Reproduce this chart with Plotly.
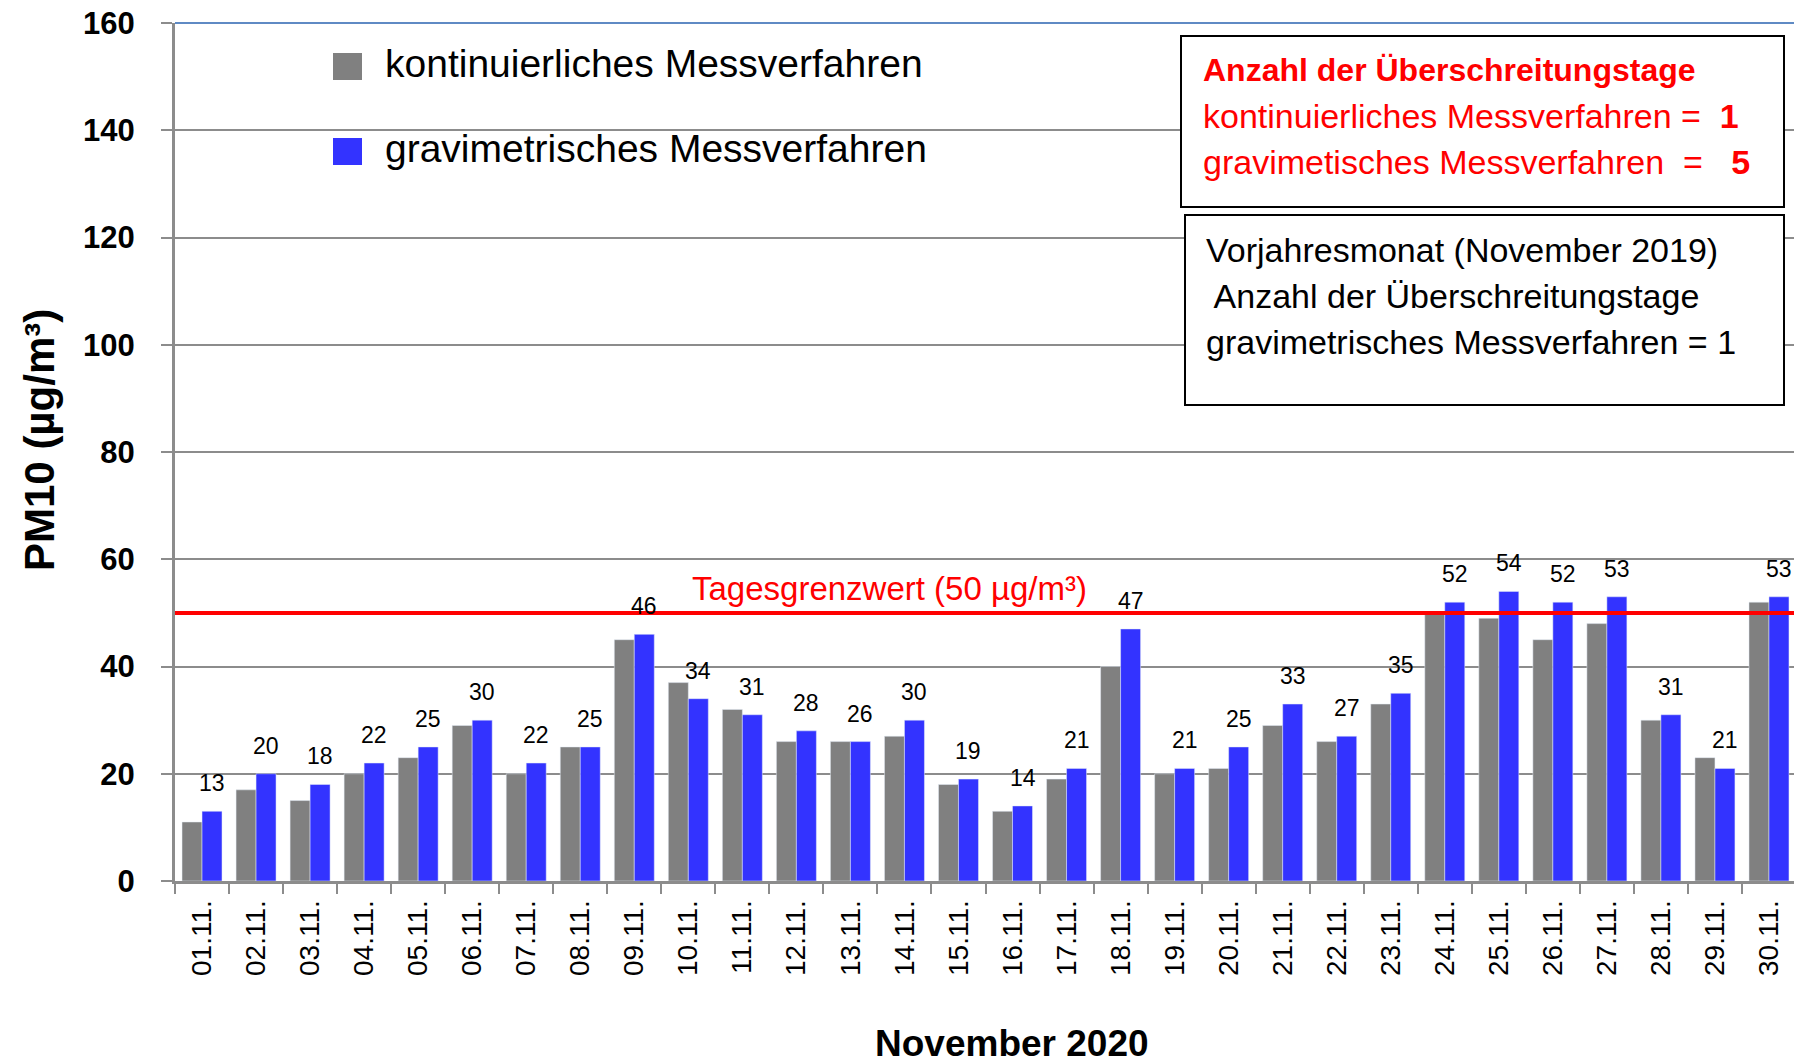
import plotly.graph_objects as go

days = [f"{d:02d}.11." for d in range(1, 31)]
kontinuierlich = [11, 17, 15, 20, 23, 29, 20, 25, 45, 37, 32, 26, 26, 27, 18,
                  13, 19, 40, 20, 21, 29, 26, 33, 50, 49, 45, 48, 30, 23, 52]
gravimetrisch = [13, 20, 18, 22, 25, 30, 22, 25, 46, 34, 31, 28, 26, 30, 19,
                 14, 21, 47, 21, 25, 33, 27, 35, 52, 54, 52, 53, 31, 21, 53]
grenzwert = 50
y_ticks = [0, 20, 40, 60, 80, 100, 120, 140, 160]

FONT = "Liberation Sans"
GRAY = "#808080"
BLUE = "#3333ff"
RED = "#ff0000"
AXIS = "#8c8c8c"

# page is 1802 x 1063, the body margin puts the figure 8px in
PAGE_W, PAGE_H, OFF = 1802, 1063, 8
W_FIG, H_FIG = PAGE_W - OFF, PAGE_H - OFF
# plot area in page pixels
L, R, T, B = 175, 1796, 23, 881


def px(x):
    return (x - L) / (R - L)


def py(y):
    return (B - y) / (B - T)


fig = go.Figure()
fig.add_trace(go.Bar(x=days, y=kontinuierlich, name="kontinuierliches Messverfahren",
                     marker_color=GRAY, showlegend=False))
fig.add_trace(go.Bar(x=days, y=gravimetrisch, name="gravimetrisches Messverfahren",
                     marker_color=BLUE, showlegend=False))

shapes = [
    # chart border, only top and right show in blue
    dict(type="line", xref="paper", yref="paper", x0=0, x1=1, y0=1, y1=1,
         line=dict(color="#5f8ac4", width=2), layer="above"),
    dict(type="line", xref="paper", yref="paper", x0=1, x1=1, y0=0, y1=1,
         line=dict(color="#5f8ac4", width=2), layer="above"),
    # limit value line
    dict(type="line", xref="paper", yref="y", x0=0, x1=1, y0=grenzwert, y1=grenzwert,
         line=dict(color=RED, width=4), layer="above"),
    # legend squares
    dict(type="rect", xref="paper", yref="paper", x0=px(333), x1=px(362), y0=py(80), y1=py(53),
         fillcolor=GRAY, line=dict(width=0)),
    dict(type="rect", xref="paper", yref="paper", x0=px(333), x1=px(362), y0=py(165), y1=py(138),
         fillcolor=BLUE, line=dict(width=0)),
    # info boxes
    dict(type="rect", xref="paper", yref="paper", x0=px(1181), x1=px(1784), y0=py(207), y1=py(36),
         fillcolor="white", line=dict(color="black", width=2), layer="above"),
    dict(type="rect", xref="paper", yref="paper", x0=px(1185), x1=px(1784), y0=py(405), y1=py(215),
         fillcolor="white", line=dict(color="black", width=2), layer="above"),
]

annotations = []
for d, v in zip(days, gravimetrisch):
    annotations.append(dict(x=d, y=v, xref="x", yref="y", text=str(v), showarrow=False,
                            xshift=10, yshift=13, yanchor="bottom",
                            font=dict(family=FONT, size=23, color="black")))


def note(x, y, text, size, color="black", xanchor="left", angle=0):
    annotations.append(dict(x=px(x), y=py(y), xref="paper", yref="paper", text=text,
                            showarrow=False, xanchor=xanchor, yanchor="middle",
                            textangle=angle,
                            font=dict(family=FONT, size=size, color=color)))


note(383, 64, "kontinuierliches Messverfahren", 39)
note(383, 148, "gravimetrisches Messverfahren", 39)
note(889, 588, "Tagesgrenzwert (50 µg/m³)", 33, RED, "center")
note(1201, 70, "<b>Anzahl der Überschreitungstage</b>", 32, RED)
note(1201, 116, "kontinuierliches Messverfahren =  <b>1</b>", 34, RED)
note(1201, 162, "gravimetisches Messverfahren  =   <b>5</b>", 34, RED)
note(1204, 250, "Vorjahresmonat (November 2019)", 34)
note(1204, 296, " Anzahl der Überschreitungstage", 34)
note(1204, 342, "gravimetrisches Messverfahren = 1", 34)
note(1012, 1043, "<b>November 2020</b>", 37, xanchor="center")
note(39, 440, "<b>PM10 (µg/m³)</b>", 42, xanchor="center", angle=-90)

fig.update_layout(
    width=W_FIG, height=H_FIG,
    margin=dict(l=L - OFF, r=W_FIG - (R - OFF), t=T - OFF, b=H_FIG - (B - OFF),
                autoexpand=False),
    paper_bgcolor="white", plot_bgcolor="white",
    barmode="group", bargap=0.26, bargroupgap=0,
    font=dict(family=FONT, color="black"),
    shapes=shapes, annotations=annotations,
    xaxis=dict(
        type="category", tickangle=-90, tickson="boundaries", ticks="outside",
        ticklen=10, tickwidth=2, tickcolor=AXIS, automargin=False,
        showline=True, linecolor=AXIS, linewidth=3, ticklabelstandoff=5,
        tickfont=dict(family=FONT, size=28), showgrid=False,
    ),
    yaxis=dict(
        range=[0, 160], tickvals=y_ticks, ticks="outside", ticklen=11, tickwidth=2,
        tickcolor=AXIS, showline=True, linecolor=AXIS, linewidth=3,
        showgrid=True, gridcolor=AXIS, gridwidth=2, zeroline=False, automargin=False,
        tickfont=dict(family=FONT, size=31, weight="bold"), ticklabelstandoff=20,
        ticklabeloverflow="allow",
    ),
)

fig.write_html("out.html")
